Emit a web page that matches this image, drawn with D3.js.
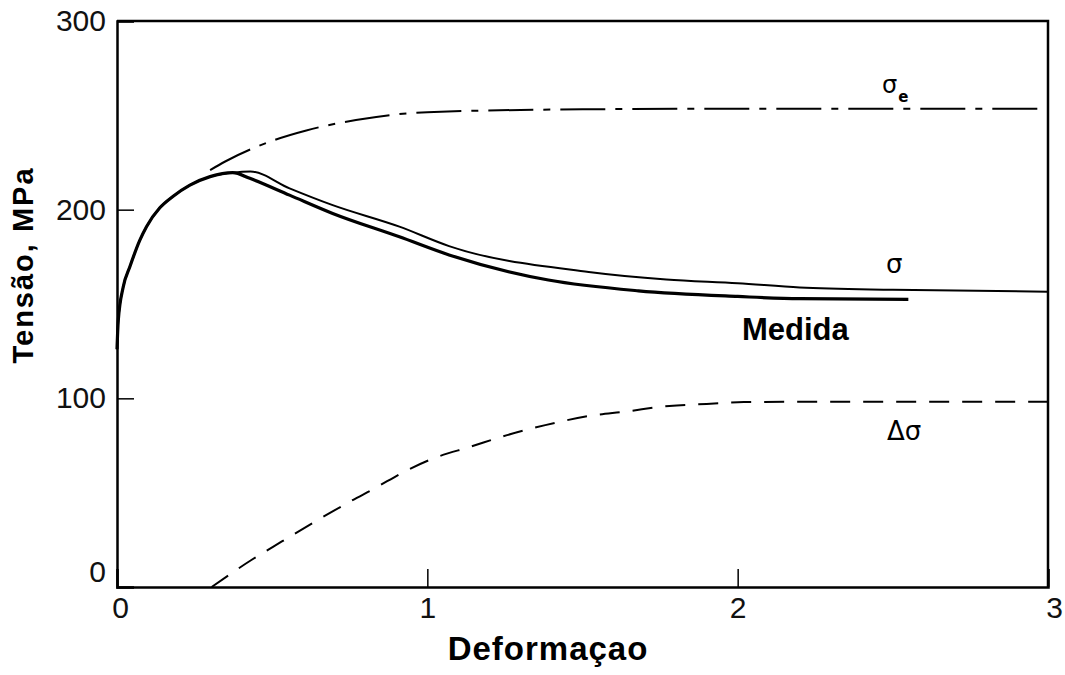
<!DOCTYPE html>
<html>
<head>
<meta charset="utf-8">
<script src="https://cdn.jsdelivr.net/npm/d3@7"></script>
<style>
  body { margin: 0; background: #fff; }
  .tick text { font-family: "Liberation Sans Narrow", "Liberation Sans", Arial, sans-serif; font-size: 30px; fill: #111; }
  .axis path, .axis line { stroke: #000; }
  .curve { fill: none; stroke: #000; }
  .title { font-family: "Liberation Sans", Arial, sans-serif; font-weight: bold; fill: #000; }
  .greek { font-family: "DejaVu Sans", sans-serif; fill: #000; }
</style>
</head>
<body>
<div id="graph"></div>
<script>
// Values (x = deformaçao, y = tensão MPa)
var xTicks = [0, 1, 2, 3];
var yTicks = [0, 100, 200, 300];

// shared rising part of sigma and measured curve
var riseX = [0, 0.004, 0.02, 0.042, 0.074, 0.095, 0.138, 0.18, 0.235, 0.30, 0.373];
var riseY = [126, 141, 159, 170, 184, 191, 201, 207, 213, 217.5, 219.6];

var sigmaX = [0.43, 0.556, 0.695, 0.91, 1.07, 1.52, 1.77, 2.0, 2.2, 2.5, 3.0];
var sigmaY = [220.2, 211.3, 202.4, 191, 180.7, 167, 163, 161, 158.8, 157.5, 156.5];

var medidaX = [0.428, 0.556, 0.695, 0.91, 1.07, 1.39, 1.68, 2.0, 2.2, 2.55];
var medidaY = [216.6, 207.7, 198, 185.6, 176, 162.7, 157, 154, 152.8, 152.5];

var sigmaEX = [0.30, 0.347, 0.50, 0.61, 0.77, 1.0, 1.5, 2.0, 3.0];
var sigmaEY = [221, 225.4, 236.5, 242, 247.5, 251.7, 253.2, 253.5, 253.5];

var deltaX = [0.305, 0.433, 0.53, 0.63, 0.75, 0.84, 0.915, 1.02, 1.14, 1.257, 1.38, 1.52, 1.64, 1.78, 1.90, 2.02, 2.3, 3.0];
var deltaY = [0, 14.3, 24, 33.9, 45.2, 53.2, 60.2, 68.2, 74.4, 80.5, 85.8, 90.6, 93, 96, 97, 98, 98.2, 98.2];

function pairs (xs, ys) { return xs.map(function (x, i) { return { x: x, y: ys[i] }; }); }

var W = 1065, H = 675;
var margin = { top: 21, right: 17, bottom: 88, left: 117 };
var width  = W - margin.left - margin.right;
var height = H - margin.top - margin.bottom;

var svg = d3.select ('#graph')
            .append ('svg')
            .attr ('width', W)
            .attr ('height', H)
            .append ('g')
            .attr ('transform', 'translate(' + margin.left + ',' + margin.top + ')');

var xScale = d3.scaleLinear ().domain ([0, 3]).range ([0, width]);
var yScale = d3.scaleLinear ().domain ([0, 300]).range ([height, 0]);

// frame (top and right sides)
svg.append ('path')
   .attr ('d', 'M0,0H' + width + 'V' + height)
   .attr ('fill', 'none')
   .attr ('stroke', '#000')
   .attr ('stroke-width', 2.5);

var yAxis = d3.axisLeft (yScale)
              .tickValues (yTicks)
              .tickFormat (d3.format ('d'))
              .tickSize (-17)
              .tickPadding (11);

var gy = svg.append ('g')
            .attr ('class', 'axis')
            .call (yAxis);
gy.select ('.domain').attr ('stroke-width', 2.5);
gy.selectAll ('.tick line').attr ('stroke-width', 1.5);
gy.selectAll ('.tick text').filter (function (d) { return d === 0; }).attr ('dy', '-0.2em');

var xAxis = d3.axisBottom (xScale)
              .tickValues (xTicks)
              .tickFormat (d3.format ('d'))
              .tickSize (-18)
              .tickPadding (10);

var gx = svg.append ('g')
            .attr ('class', 'axis')
            .attr ('transform', 'translate(0,' + height + ')')
            .call (xAxis);
gx.select ('.domain').attr ('stroke-width', 2.5);
gx.selectAll ('.tick line').attr ('stroke-width', 1.5);
gx.selectAll ('.tick text').attr ('dx', function (d) { return d === 3 ? 6 : (d === 0 ? 3 : 0); });

var line = d3.line ()
             .x (function (d) { return xScale (d.x); })
             .y (function (d) { return yScale (d.y); })
             .curve (d3.curveMonotoneX);

// sigma_e (dash-dot)
svg.append ('path')
   .datum (pairs (sigmaEX, sigmaEY))
   .attr ('class', 'curve')
   .attr ('d', line)
   .attr ('stroke-width', 2)
   .attr ('stroke-dasharray', '45,10,7,10');

// delta sigma (dashed)
svg.append ('path')
   .datum (pairs (deltaX, deltaY))
   .attr ('class', 'curve')
   .attr ('d', line)
   .attr ('stroke-width', 2)
   .attr ('stroke-dasharray', '20,13');

// sigma (thin)
svg.append ('path')
   .datum (pairs (riseX, riseY).concat (pairs (sigmaX, sigmaY)))
   .attr ('class', 'curve')
   .attr ('d', line)
   .attr ('stroke-width', 2);

// measured (thick)
svg.append ('path')
   .datum (pairs (riseX, riseY).concat (pairs (medidaX, medidaY)))
   .attr ('class', 'curve')
   .attr ('d', line)
   .attr ('stroke-width', 3.2);

// curve labels
var se = svg.append ('text')
            .attr ('class', 'greek')
            .attr ('x', 765)
            .attr ('y', 72)
            .style ('font-size', '24px');
se.append ('tspan').text ('σ');
se.append ('tspan').attr ('dx', 1).attr ('dy', 9).style ('font-size', '15px').style ('font-weight', 'bold').text ('e');

svg.append ('text')
   .attr ('class', 'greek')
   .attr ('x', 769)
   .attr ('y', 252)
   .style ('font-size', '26px')
   .text ('σ');

svg.append ('text')
   .attr ('class', 'greek')
   .attr ('x', 770)
   .attr ('y', 419)
   .style ('font-size', '26px')
   .text ('Δσ');

svg.append ('text')
   .attr ('class', 'title')
   .attr ('x', 625)
   .attr ('y', 319)
   .style ('font-size', '31px')
   .text ('Medida');

// axis titles
svg.append ('text')
   .attr ('class', 'title')
   .attr ('text-anchor', 'middle')
   .attr ('transform', 'translate(' + (33 - margin.left) + ',' + (265 - margin.top) + ') rotate(-90)')
   .style ('font-size', '29px')
   .style ('letter-spacing', '2px')
   .text ('Tensão, MPa');

svg.append ('text')
   .attr ('class', 'title')
   .attr ('text-anchor', 'middle')
   .attr ('x', 548 - margin.left)
   .attr ('y', 660 - margin.top)
   .style ('font-size', '33px')
   .style ('letter-spacing', '1px')
   .text ('Deformaçao');
</script>
</body>
</html>
